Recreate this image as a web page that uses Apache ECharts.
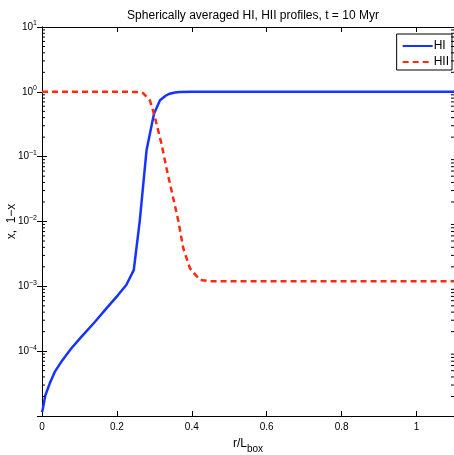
<!DOCTYPE html>
<html>
<head>
<meta charset="utf-8">
<script src="https://cdn.jsdelivr.net/npm/echarts@6/dist/echarts.min.js"></script>
<style>
html,body{margin:0;padding:0;background:#fff;}
#chart{width:454px;height:455px;}
</style>
</head>
<body>
<div id="chart"></div>
<script>
// ---- data ----
var titleText = 'Spherically averaged HI, HII profiles, t = 10 Myr';
var hiR   = [0, 0.002, 0.009, 0.0205, 0.034, 0.0515, 0.078, 0.105, 0.141, 0.172, 0.203, 0.225, 0.245, 0.261, 0.279, 0.299, 0.315, 0.33, 0.341, 0.355, 0.368, 0.4, 0.6, 0.8, 1.0, 1.1];
var hiVal = [1.15e-5, 1.27e-5, 2.09e-5, 3.16e-5, 4.79e-5, 6.84e-5, 1.10e-4, 1.66e-4, 2.82e-4, 4.57e-4, 7.33e-4, 1.05e-3, 1.78e-3, 1.02e-2, 0.124, 0.459, 0.741, 0.87, 0.937, 0.977, 0.995, 0.9988, 0.9988, 0.9988, 0.9988, 0.9988];
var hiiR   = [0, 0.1, 0.2, 0.25, 0.27, 0.288, 0.299, 0.319, 0.332, 0.35, 0.364, 0.377, 0.395, 0.421, 0.448, 0.6, 0.8, 1.0, 1.1];
var hiiVal = [0.99999, 0.9998, 0.9993, 0.998, 0.955, 0.74, 0.459, 0.158, 0.068, 0.0234, 0.0102, 3.9e-3, 1.9e-3, 1.26e-3, 1.2e-3, 1.2e-3, 1.2e-3, 1.2e-3, 1.2e-3];
var yMin = 1e-5, yMax = 10;
var minorMults = [2, 3, 4, 5, 6, 7, 8, 9];
var decades = [-5, -4, -3, -2, -1, 0];

function pairs(xs, ys){ var o=[]; for(var i=0;i<xs.length;i++) o.push([xs[i], ys[i]]); return o; }
var minorData = [];
decades.forEach(function(d){ minorMults.forEach(function(m){ minorData.push([0, m*Math.pow(10,d)]); }); });

var FONT = '"Liberation Sans", Arial, sans-serif';
var chart = echarts.init(document.getElementById('chart'), null, {renderer:'canvas'});

function yLabel(v){
  var e = Math.round(Math.log10(v));
  if (e === -5) return '';
  return '10{sup|' + (e < 0 ? '\u2212' + (-e) : e) + '}';
}

chart.setOption({
  animation: false,
  backgroundColor: '#fff',
  textStyle: {fontFamily: FONT},
  title: {
    text: titleText, left: 248, textAlign: 'center', top: 5,
    textStyle: {fontFamily: FONT, fontSize: 12, fontWeight: 'normal', color: '#000'}
  },
  legend: {
    data: ['HI', 'HII'], orient: 'vertical', right: 2, top: 34,
    backgroundColor: '#fff', borderColor: '#000', borderWidth: 1,
    padding: [6, 3, 2, 5], itemGap: 4, itemWidth: 30, itemHeight: 12,
    itemStyle: {opacity: 0},
    textStyle: {fontFamily: FONT, fontSize: 12, color: '#000', padding: [0,0,0,-4]}
  },
  grid: {left: 42, top: 27, width: 412, height: 389, containLabel: false, outerBoundsMode: 'none'},
  xAxis: [{
    type: 'value', min: 0, max: 1.1, interval: 0.2, position: 'bottom',
    name: 'r/L{sub|box}', nameLocation: 'middle', nameGap: 18,
    nameTextStyle: {fontFamily: FONT, fontSize: 12, color: '#000',
      rich: {sub: {fontSize: 10, padding: [10, 0, 0, 0]}}},
    axisLine: {lineStyle: {color: '#000', width: 1}},
    axisTick: {inside: true, length: 5, lineStyle: {color: '#000'}},
    axisLabel: {fontFamily: FONT, fontSize: 10, color: '#000', margin: 6, showMaxLabel: false,
      formatter: function(v){ return v > 1.05 ? '' : String(Math.round(v*10)/10); }},
    splitLine: {show: false}
  }, {
    type: 'value', min: 0, max: 1.1, interval: 0.2, position: 'top',
    axisLine: {lineStyle: {color: '#000', width: 1}},
    axisTick: {inside: true, length: 5, lineStyle: {color: '#000'}},
    axisLabel: {show: false}, splitLine: {show: false}
  }],
  yAxis: [{
    type: 'log', logBase: 10, min: yMin, max: yMax, interval: 1, position: 'left',
    name: 'x,  1\u2212x', nameLocation: 'middle', nameGap: 24, nameRotate: 90, nameMoveOverlap: false,
    nameTextStyle: {fontFamily: FONT, fontSize: 12, color: '#000'},
    axisLine: {lineStyle: {color: '#000', width: 1}},
    axisTick: {inside: true, length: 5, lineStyle: {color: '#000'}},
    axisLabel: {fontFamily: FONT, fontSize: 10, color: '#000', margin: 5, formatter: yLabel,
      rich: {sup: {fontSize: 7, verticalAlign: 'top', padding: [0, 0, 7, 0]}}},
    splitLine: {show: false}
  }, {
    type: 'log', logBase: 10, min: yMin, max: yMax, interval: 1, position: 'right',
    axisLine: {lineStyle: {color: '#000', width: 1}},
    axisTick: {inside: true, length: 5, lineStyle: {color: '#000'}},
    axisLabel: {show: false}, splitLine: {show: false}
  }],
  series: [{
    name: 'HI', type: 'line', data: pairs(hiR, hiVal), showSymbol: false, symbol: 'none',
    lineStyle: {color: '#1634ff', width: 2.5}, itemStyle: {color: '#1634ff'}, z: 3
  }, {
    name: 'HII', type: 'line', data: pairs(hiiR, hiiVal), showSymbol: false, symbol: 'none',
    lineStyle: {color: '#ff2a10', width: 2.5, type: [6, 4]}, itemStyle: {color: '#ff2a10'}, z: 4
  }, {
    name: 'minor', type: 'custom', silent: true, data: minorData, z: 5,
    renderItem: function(params, api){
      var v = api.value(1);
      var l = api.coord([0, v]);
      var r = api.coord([1.1, v]);
      var st = {stroke: '#000', lineWidth: 1};
      return {type: 'group', children: [
        {type: 'line', shape: {x1: l[0], y1: l[1], x2: l[0] + 3, y2: l[1]}, style: st},
        {type: 'line', shape: {x1: r[0], y1: r[1], x2: r[0] - 3, y2: r[1]}, style: st}
      ]};
    }
  }]
});
</script>
</body>
</html>
